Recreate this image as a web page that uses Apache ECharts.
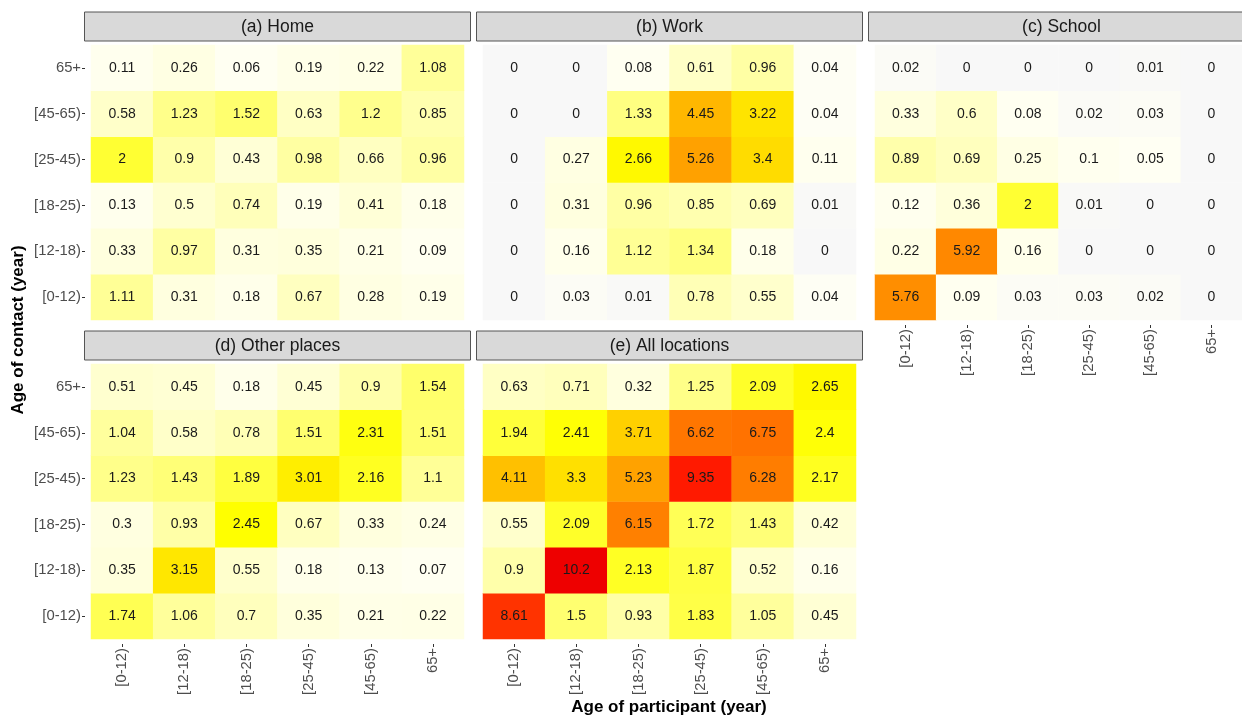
<!DOCTYPE html>
<html>
<head>
<meta charset="utf-8">
<script src="https://cdn.jsdelivr.net/npm/echarts@6/dist/echarts.min.js"></script>
<style>
html,body{margin:0;padding:0;background:#fff;}
#chart{width:1242px;height:718px;}
</style>
</head>
<body>
<div id="chart"></div>
<script>
// Categories
const participantAges = ['[0-12)', '[12-18)', '[18-25)', '[25-45)', '[45-65)', '65+'];
const contactAges = ['[0-12)', '[12-18)', '[18-25)', '[25-45)', '[45-65)', '65+'];
const panelTitles = ['(a) Home', '(b) Work', '(c) School', '(d) Other places', '(e) All locations'];

// Values: one row per contact age (bottom [0-12) to top 65+), one column per participant age
const home = [
  [1.11, 0.31, 0.18, 0.67, 0.28, 0.19],
  [0.33, 0.97, 0.31, 0.35, 0.21, 0.09],
  [0.13, 0.5, 0.74, 0.19, 0.41, 0.18],
  [2, 0.9, 0.43, 0.98, 0.66, 0.96],
  [0.58, 1.23, 1.52, 0.63, 1.2, 0.85],
  [0.11, 0.26, 0.06, 0.19, 0.22, 1.08]
];
const work = [
  [0, 0.03, 0.01, 0.78, 0.55, 0.04],
  [0, 0.16, 1.12, 1.34, 0.18, 0],
  [0, 0.31, 0.96, 0.85, 0.69, 0.01],
  [0, 0.27, 2.66, 5.26, 3.4, 0.11],
  [0, 0, 1.33, 4.45, 3.22, 0.04],
  [0, 0, 0.08, 0.61, 0.96, 0.04]
];
const school = [
  [5.76, 0.09, 0.03, 0.03, 0.02, 0],
  [0.22, 5.92, 0.16, 0, 0, 0],
  [0.12, 0.36, 2, 0.01, 0, 0],
  [0.89, 0.69, 0.25, 0.1, 0.05, 0],
  [0.33, 0.6, 0.08, 0.02, 0.03, 0],
  [0.02, 0, 0, 0, 0.01, 0]
];
const otherPlaces = [
  [1.74, 1.06, 0.7, 0.35, 0.21, 0.22],
  [0.35, 3.15, 0.55, 0.18, 0.13, 0.07],
  [0.3, 0.93, 2.45, 0.67, 0.33, 0.24],
  [1.23, 1.43, 1.89, 3.01, 2.16, 1.1],
  [1.04, 0.58, 0.78, 1.51, 2.31, 1.51],
  [0.51, 0.45, 0.18, 0.45, 0.9, 1.54]
];
const allLocations = [
  [8.61, 1.5, 0.93, 1.83, 1.05, 0.45],
  [0.9, 10.2, 2.13, 1.87, 0.52, 0.16],
  [0.55, 2.09, 6.15, 1.72, 1.43, 0.42],
  [4.11, 3.3, 5.23, 9.35, 6.28, 2.17],
  [1.94, 2.41, 3.71, 6.62, 6.75, 2.4],
  [0.63, 0.71, 0.32, 1.25, 2.09, 2.65]
];
const matrices = [home, work, school, otherPlaces, allLocations];

// Colour ramp anchors (value -> colour)
const rampAnchors = [
  [0, '#F8F8F8'], [0.04, '#FFFFF4'], [0.3, '#FFFFE0'], [0.55, '#FFFFCC'], [0.9, '#FFFFAA'],
  [1.5, '#FFFF70'], [2.0, '#FFFF33'], [2.45, '#FFFF00'], [3.0, '#FFEE00'], [3.3, '#FFE000'],
  [3.71, '#FFD000'], [4.11, '#FFC000'], [5.23, '#FFA200'], [5.8, '#FF8C00'], [6.15, '#FF8000'],
  [6.7, '#FF7400'], [8.61, '#FF3300'], [9.35, '#FF1A00'], [10.2, '#EE0000']
];
const colorMax = 10.2;

function hexToRgb(h){return [parseInt(h.substr(1,2),16),parseInt(h.substr(3,2),16),parseInt(h.substr(5,2),16)];}
function rampAt(v){
  for (let i=0;i<rampAnchors.length-1;i++){
    const a=rampAnchors[i], b=rampAnchors[i+1];
    if (v<=b[0]){
      const t=(v-a[0])/(b[0]-a[0]);
      const ca=hexToRgb(a[1]), cb=hexToRgb(b[1]);
      const c=ca.map((x,k)=>Math.round(x+(cb[k]-x)*t));
      return 'rgb('+c.join(',')+')';
    }
  }
  return rampAnchors[rampAnchors.length-1][1];
}
const rampColors=[];
const nSteps=204;
for (let i=0;i<=nSteps;i++) rampColors.push(rampAt(colorMax*i/nSteps));

// Layout of panels (tile areas)
const panels = [
  {left:91, top:45, showX:false, showY:true},
  {left:483, top:45, showX:false, showY:false},
  {left:875, top:45, showX:true, showY:false},
  {left:91, top:364, showX:true, showY:true},
  {left:483, top:364, showX:true, showY:false}
];
const tileW = 373, tileH = 275;
const FONT = '"Liberation Sans", Arial, Helvetica, sans-serif';

const grids=[], xAxes=[], yAxes=[], series=[], graphics=[];
panels.forEach((p,i)=>{
  grids.push({left:p.left, top:p.top, width:tileW, height:tileH, containLabel:false});
  xAxes.push({
    type:'category', gridIndex:i, data:participantAges, offset:5,
    axisLine:{show:false}, splitLine:{show:false}, splitArea:{show:false},
    axisTick:{show:p.showX, length:3, alignWithLabel:true, lineStyle:{color:'#333'}},
    axisLabel:{show:p.showX, rotate:90, margin:4, color:'#4D4D4D', fontSize:14.8, fontFamily:FONT, interval:0}
  });
  yAxes.push({
    type:'category', gridIndex:i, data:contactAges, offset:6,
    axisLine:{show:false}, splitLine:{show:false}, splitArea:{show:false},
    axisTick:{show:p.showY, length:3, alignWithLabel:true, lineStyle:{color:'#333'}},
    axisLabel:{show:p.showY, margin:4, color:'#4D4D4D', fontSize:14.8, fontFamily:FONT, interval:0}
  });
  const data=[];
  matrices[i].forEach((row,r)=>row.forEach((v,c)=>data.push([c,r,v])));
  series.push({
    type:'heatmap', xAxisIndex:i, yAxisIndex:i, data:data,
    label:{show:true, color:'#1A1A1A', fontSize:14, fontFamily:FONT, formatter:(d)=>String(d.value[2])},
    itemStyle:{borderWidth:0},
    emphasis:{disabled:true}
  });
  // facet strip
  const sx=p.left-6.5, sy=(i<3?12:331), sw=tileW+13, sh=29;
  graphics.push({type:'rect', shape:{x:sx, y:sy, width:(i===2?sw+20:sw), height:sh},
    style:{fill:'#D9D9D9', stroke:'#555', lineWidth:1}, z:10});
  graphics.push({type:'text', x:sx+sw/2, y:sy+sh/2+1,
    style:{text:panelTitles[i], align:'center', verticalAlign:'middle', textAlign:'center', textVerticalAlign:'middle',
      fill:'#1A1A1A', font:'17.5px '+FONT}, z:11});
});
graphics.push({type:'text', x:18, y:330, rotation:Math.PI/2,
  style:{text:'Age of contact (year)', align:'center', verticalAlign:'middle', textAlign:'center', textVerticalAlign:'middle',
    fill:'#000', font:'bold 17px '+FONT}});
graphics.push({type:'text', x:669, y:707,
  style:{text:'Age of participant (year)', align:'center', verticalAlign:'middle', textAlign:'center', textVerticalAlign:'middle',
    fill:'#000', font:'bold 17px '+FONT}});

const chart = echarts.init(document.getElementById('chart'), null, {renderer:'canvas'});
chart.setOption({
  animation:false,
  backgroundColor:'#fff',
  grid:grids, xAxis:xAxes, yAxis:yAxes, series:series,
  visualMap:[{type:'continuous', show:false, min:0, max:colorMax, seriesIndex:[0,1,2,3,4], inRange:{color:rampColors}}],
  graphic:graphics
});
</script>
</body>
</html>
